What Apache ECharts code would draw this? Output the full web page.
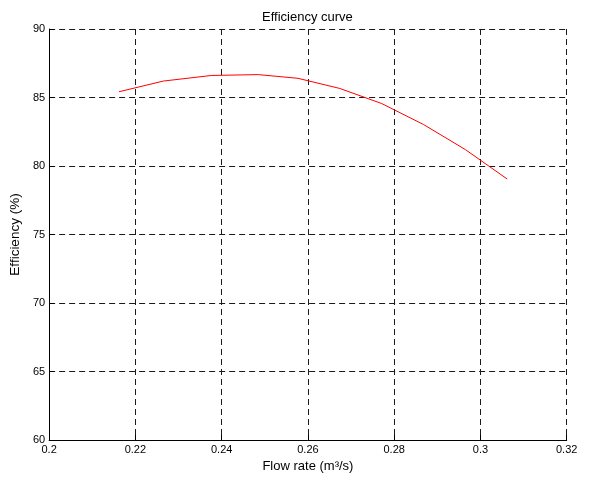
<!DOCTYPE html>
<html>
<head>
<meta charset="utf-8">
<script src="https://cdn.jsdelivr.net/npm/echarts@6/dist/echarts.min.js"></script>
<style>
html,body{margin:0;padding:0;background:#fff;}
#chart{width:589px;height:479px;}
</style>
</head>
<body>
<div id="chart"></div>
<script>
const flowRate = [0.2162, 0.2265, 0.2377, 0.2485, 0.2577, 0.2674, 0.2771, 0.2868, 0.2965, 0.3062];
const efficiency = [85.42, 86.20, 86.61, 86.67, 86.40, 85.66, 84.56, 83.03, 81.20, 79.05];
const titleText = 'Efficiency curve';
const xName = 'Flow rate (m\u00B3/s)';
const yName = 'Efficiency (%)';

const chart = echarts.init(document.getElementById('chart'), null, {renderer: 'canvas'});
const font = 'Liberation Sans, Arial, sans-serif';
const gridLine = {show: true, lineStyle: {color: '#1a1a1a', type: [6, 4], width: 1}};
chart.setOption({
  animation: false,
  backgroundColor: '#fff',
  title: {
    text: titleText, left: 257, top: 6,
    textStyle: {fontFamily: font, fontSize: 13, fontWeight: 'normal', color: '#000'}
  },
  grid: {left: 46.7, right: 22.3, top: 29, bottom: 39, containLabel: false},
  xAxis: {
    type: 'value', min: 0.2, max: 0.32, interval: 0.02,
    name: xName, nameLocation: 'middle', nameGap: 15,
    nameTextStyle: {fontFamily: font, fontSize: 13, color: '#000'},
    axisLine: {show: true, onZero: false, lineStyle: {color: '#000', width: 1}},
    axisTick: {show: true, inside: true, length: 5, lineStyle: {color: '#000'}},
    axisLabel: {fontFamily: font, fontSize: 11, color: '#000', margin: 4,
      formatter: v => String(+v.toFixed(2))},
    splitLine: gridLine
  },
  yAxis: {
    type: 'value', min: 60, max: 90, interval: 5,
    name: yName, nameLocation: 'middle', nameGap: 15,
    nameTextStyle: {fontFamily: font, fontSize: 13.5, color: '#000'},
    axisLine: {show: true, onZero: false, lineStyle: {color: '#000', width: 1}},
    axisTick: {show: true, inside: true, length: 5, lineStyle: {color: '#000'}},
    axisLabel: {fontFamily: font, fontSize: 11, color: '#000', margin: 4},
    splitLine: gridLine
  },
  series: [{
    type: 'line',
    data: flowRate.map((x, i) => [x, efficiency[i]]),
    showSymbol: false, symbol: 'none',
    lineStyle: {color: '#ff0000', width: 1},
    z: 5
  }]
});
</script>
</body>
</html>
